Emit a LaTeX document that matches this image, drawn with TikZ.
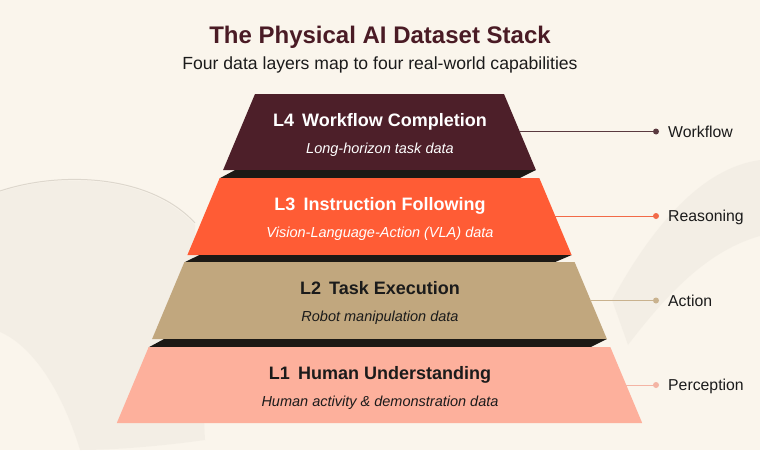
\documentclass[tikz,border=0pt]{standalone}
\usepackage{fontspec}
\setmainfont{Liberation Sans}
\definecolor{bg}{HTML}{FAF5EC}
\definecolor{bgshade}{HTML}{EFEAE1}
\definecolor{ridgec}{HTML}{DDD7CD}
\definecolor{maroon}{HTML}{4D1F29}
\definecolor{orng}{HTML}{FF5C35}
\definecolor{tanc}{HTML}{C1A77E}
\definecolor{salmon}{HTML}{FDB09C}
\definecolor{shadowc}{HTML}{1C1915}
\definecolor{titlec}{HTML}{4A1B25}
\definecolor{ink}{HTML}{1B1B1B}
\definecolor{line4}{HTML}{5A3A40}
\definecolor{line3}{HTML}{F26A48}
\definecolor{line2}{HTML}{C9B28E}
\definecolor{line1}{HTML}{F4B4A4}
\tikzset{
  ltitle/.style={font=\fontsize{18}{21}\selectfont\bfseries, anchor=base, inner sep=0pt},
  lsub/.style={font=\fontsize{14.5}{17}\selectfont\itshape, anchor=base, inner sep=0pt},
  caplabel/.style={font=\fontsize{15.8}{18}\selectfont, text=ink, anchor=base west, inner sep=0pt},
  capdot/.style={circle, inner sep=0pt, minimum size=6pt},
  conn/.style={line width=0.9pt},
  stripbox/.style={fill=shadowc},
  swoosh/.style={fill=bgshade, opacity=0.55}
}
\begin{document}
\begin{tikzpicture}[x=1pt,y=-1pt]
\fill[bg] (0,0) rectangle (760,450);
\useasboundingbox (0,0) rectangle (760,450);
% faint background swooshes
\fill[swoosh] (0,192) .. controls (60,172) and (150,175) .. (195,225) -- (205,440) .. controls (170,445) and (120,450) .. (80,450) .. controls (60,385) and (30,345) .. (0,332) -- cycle;
\draw[ridgec, line width=1pt] (0,191) .. controls (60,171) and (150,174) .. (195,223);
\fill[swoosh] (760,160) .. controls (700,168) and (650,230) .. (612,300) -- (628,345) .. controls (670,290) and (710,250) .. (760,236) -- cycle;

% title
\node[font=\fontsize{24}{28}\selectfont\bfseries, text=titlec, anchor=base, inner sep=0pt] (title) at (380,43) {The Physical AI Dataset Stack};
\node[font=\fontsize{17.6}{20}\selectfont, text=ink, anchor=base, inner sep=0pt] (subtitle) at (380,69.5) {Four data layers map to four real-world capabilities};

% L4
\fill[maroon] (255,94) -- (504,94) -- (535.9,170) -- (223.1,170) -- cycle;
\fill[stripbox] (235.1,170) -- (535.9,170) -- (519.3,178.3) -- (219.7,178.3) -- cycle;
% L3
\fill[orng] (219.7,178) -- (539.3,178) -- (571.6,255) -- (187.4,255) -- cycle;
\fill[stripbox] (199.4,255) -- (571.6,255) -- (554.6,262.3) -- (184.4,262.3) -- cycle;
% L2
\fill[tanc] (184.4,262) -- (574.6,262) -- (606.9,339) -- (152.1,339) -- cycle;
\fill[stripbox] (164.1,339) -- (606.9,339) -- (590.3,347.3) -- (148.7,347.3) -- cycle;
% L1
\fill[salmon] (148.7,347) -- (610.3,347) -- (642.2,423) -- (116.8,423) -- cycle;

% layer texts
\node[ltitle, text=white] (t4) at (380,126) {L4\hspace{0.45em}Workflow Completion};
\node[lsub, text=white] (s4) at (380,153.5) {Long-horizon task data};
\node[ltitle, text=white] (t3) at (380,210.5) {L3\hspace{0.45em}Instruction Following};
\node[lsub, text=white] (s3) at (380,237.5) {Vision-Language-Action (VLA) data};
\node[ltitle, text=ink] (t2) at (380,294.5) {L2\hspace{0.45em}Task Execution};
\node[lsub, text=ink] (s2) at (380,321.5) {Robot manipulation data};
\node[ltitle, text=ink] (t1) at (380,379) {L1\hspace{0.45em}Human Understanding};
\node[lsub, text=ink] (s1) at (380,406) {Human activity \& demonstration data};

% connectors
\coordinate (e4) at (519,131.5);
\coordinate (e3) at (554,216);
\coordinate (e2) at (590,300.5);
\coordinate (e1) at (625,385);
\node[capdot, fill=line4] (d4) at (656,131.5) {};
\node[capdot, fill=line3] (d3) at (656,216) {};
\node[capdot, fill=line2] (d2) at (656,300.5) {};
\node[capdot, fill=line1] (d1) at (656,385) {};
\draw[conn, line4] (e4) -- (d4.center);
\draw[conn, line3] (e3) -- (d3.center);
\draw[conn, line2] (e2) -- (d2.center);
\draw[conn, line1] (e1) -- (d1.center);
\node[caplabel] (c4) at (668,137) {Workflow};
\node[caplabel] (c3) at (668,221.5) {Reasoning};
\node[caplabel] (c2) at (668,306) {Action};
\node[caplabel] (c1) at (668,390.5) {Perception};
\end{tikzpicture}
\end{document}
